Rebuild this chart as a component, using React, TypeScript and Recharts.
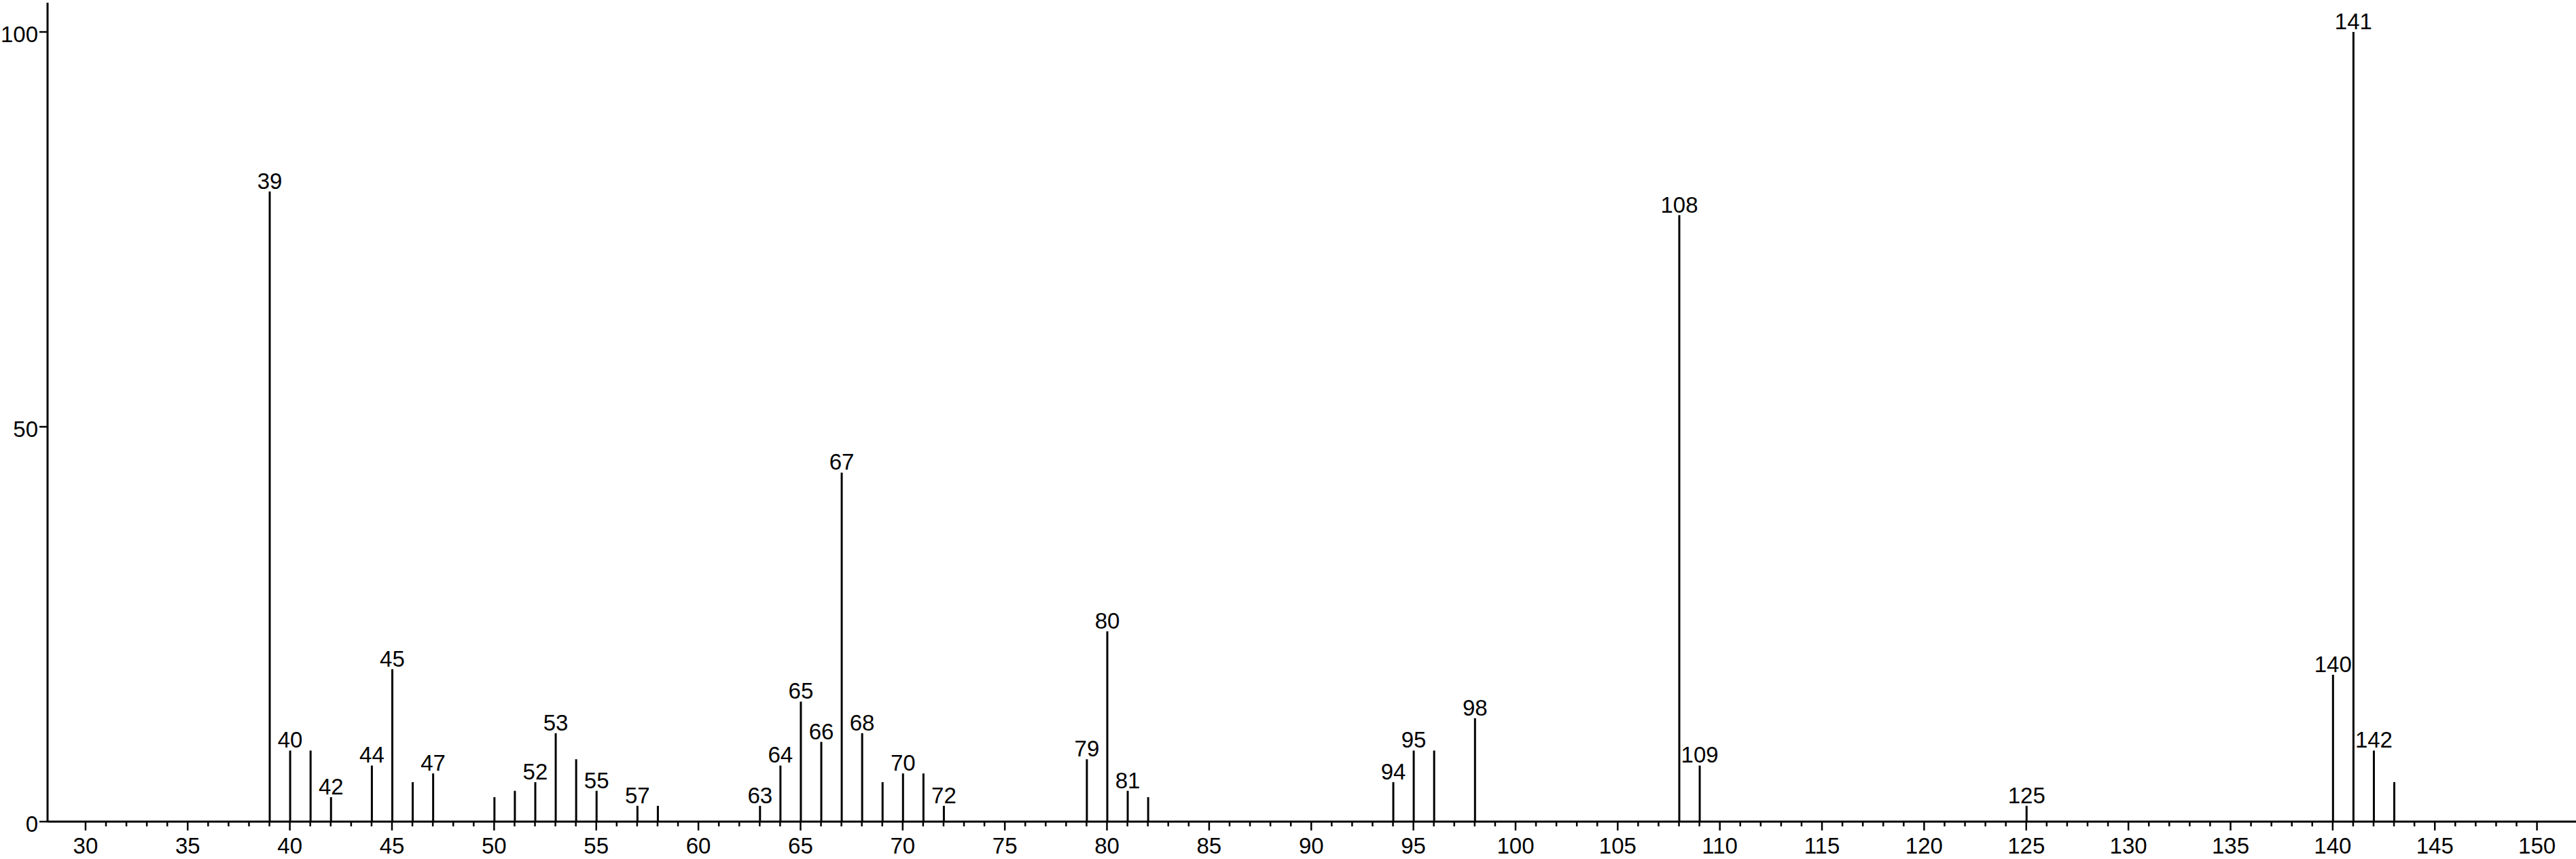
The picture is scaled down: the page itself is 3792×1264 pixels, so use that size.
import { BarChart, Bar, XAxis, YAxis, LabelList } from 'recharts'

// m/z positions of the peaks
const peakMz = [
  39, 40, 41, 42, 44, 45, 46, 47, 50, 51, 52, 53, 54, 55, 57, 58,
  63, 64, 65, 66, 67, 68, 69, 70, 71, 72, 79, 80, 81, 82,
  94, 95, 96, 98, 108, 109, 125, 140, 141, 142, 143,
]

// relative intensity (%)
const peakIntensity = [
  79.8, 9.0, 9.0, 3.1, 7.1, 19.3, 5.0, 6.1, 3.1, 3.9, 5.0, 11.2, 7.9, 3.9, 2.0, 2.0,
  2.0, 7.1, 15.2, 10.1, 44.2, 11.2, 5.0, 6.1, 6.1, 2.0, 7.9, 24.1, 3.9, 3.1,
  5.0, 9.0, 9.0, 13.1, 76.8, 7.1, 2.0, 18.6, 100, 9.0, 5.0,
]

// peaks that carry a m/z label
const labeledPeaks = [
  39, 40, 42, 44, 45, 47, 52, 53, 55, 57, 63, 64, 65, 66, 67, 68, 70, 72,
  79, 80, 81, 94, 95, 98, 108, 109, 125, 140, 141, 142,
]

const xTicks = Array.from({ length: 121 }, (_, i) => 30 + i)
const yTicks = [0, 50, 100]

const FONT = '"Liberation Sans", Arial, sans-serif'

const data = peakMz.map((mz, i) => ({
  mz,
  intensity: peakIntensity[i],
  label: labeledPeaks.includes(mz) ? String(mz) : '',
}))

function XTick(props: any) {
  const { x, y, payload } = props
  const major = payload.value % 5 === 0
  return (
    <g>
      <line x1={x} x2={x} y1={y} y2={y + (major ? 13 : 7)} stroke="#000" strokeWidth={2.5} />
      {major && (
        <text x={x} y={y + 47} textAnchor="middle" fontSize={33} fontFamily={FONT} fill="#000">
          {payload.value}
        </text>
      )}
    </g>
  )
}

function YTick(props: any) {
  const { x, y, payload } = props
  return (
    <text x={x} y={y + 15} textAnchor="end" fontSize={33} fontFamily={FONT} fill="#000">
      {payload.value}
    </text>
  )
}

function PeakLabel(props: any) {
  const { x, y, width, value } = props
  if (!value) return null
  return (
    <text
      x={Number(x) + Number(width) / 2}
      y={Number(y) - 4}
      textAnchor="middle"
      fontSize={33}
      fontFamily={FONT}
      fill="#000"
    >
      {value}
    </text>
  )
}

export default function App() {
  return (
    <div style={{ position: 'absolute', left: 0, top: 0, width: 3792, height: 1264, background: '#fff' }}>
      <BarChart
        width={3792}
        height={1264}
        data={data}
        margin={{ top: 4, right: 0, left: 0, bottom: 0 }}
      >
        <XAxis
          dataKey="mz"
          type="number"
          domain={[28.14, 151.91]}
          allowDataOverflow
          ticks={xTicks}
          interval={0}
          tickSize={0}
          tickMargin={0}
          tickLine={false}
          tick={<XTick />}
          axisLine={{ stroke: '#000', strokeWidth: 3 }}
          height={55}
        />
        <YAxis
          type="number"
          domain={[0, 103.7]}
          allowDataOverflow
          ticks={yTicks}
          interval={0}
          tickSize={12}
          tickMargin={2}
          tickLine={{ stroke: '#000', strokeWidth: 2.5 }}
          tick={<YTick />}
          axisLine={{ stroke: '#000', strokeWidth: 3 }}
          width={70}
        />
        <Bar dataKey="intensity" fill="#000" barSize={3} isAnimationActive={false}>
          <LabelList dataKey="label" content={<PeakLabel />} />
        </Bar>
      </BarChart>
    </div>
  )
}
